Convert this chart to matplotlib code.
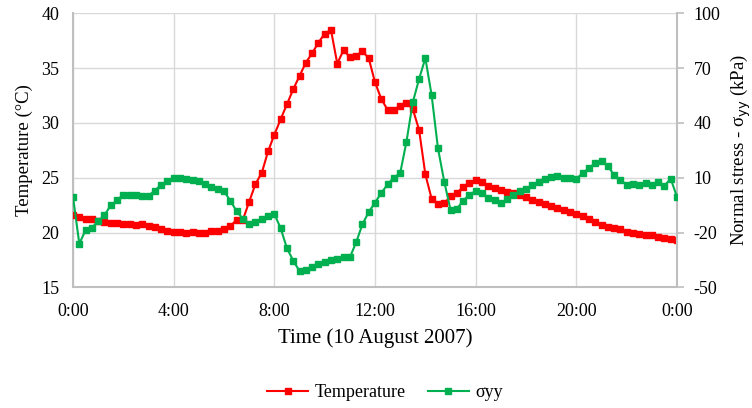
import numpy as np
import matplotlib
matplotlib.use("Agg")
import matplotlib.pyplot as plt

plt.rcParams['font.family'] = ['Liberation Serif', 'DejaVu Serif']
plt.rcParams['axes.unicode_minus'] = False

# readings every 15 min, 0:00 to 24:00
hours = np.arange(97) * 0.25

temperature = [
    21.56, 21.38, 21.19, 21.19, 21.04, 20.95, 20.86, 20.86, 20.76, 20.76, 20.67, 20.76, 20.58, 20.46, 20.34, 20.18,
    20.06, 20.06, 19.94, 20.03, 19.94, 19.94, 20.18, 20.18, 20.31, 20.58, 21.16, 21.16, 22.81, 24.43, 25.44, 27.40,
    28.93, 30.33, 31.70, 33.07, 34.28, 35.50, 36.35, 37.32, 38.14, 38.48, 35.41, 36.65, 35.99, 36.11, 36.56, 35.89,
    33.70, 32.18, 31.19, 31.19, 31.57, 31.80, 31.27, 29.37, 25.30, 23.07, 22.61, 22.67, 23.30, 23.62, 24.13, 24.50,
    24.80, 24.59, 24.28, 24.04, 23.85, 23.67, 23.58, 23.39, 23.24, 22.97, 22.78, 22.57, 22.39, 22.23, 22.05, 21.87,
    21.65, 21.47, 21.19, 20.98, 20.73, 20.52, 20.40, 20.28, 20.09, 19.97, 19.85, 19.76, 19.76, 19.63, 19.54, 19.45,
    19.36,
]

sigma_yy = [
    -0.6, -26.1, -18.7, -17.3, -13.8, -10.5, -5.1, -2.4, 0.7, 0.7, 0.7, 0.2, 0.2, 2.9, 6.2, 8.1,
    10.1, 9.7, 9.2, 8.6, 8.1, 6.4, 4.8, 3.7, 2.6, -2.6, -8.3, -12.5, -15.6, -14.5, -12.5, -11.0,
    -9.8, -17.7, -28.6, -35.4, -41.1, -40.7, -38.7, -37.2, -36.3, -35.0, -34.5, -33.6, -33.6, -25.4, -15.5, -8.8,
    -3.6, 1.6, 6.4, 10.1, 12.5, 29.8, 51.2, 64.0, 75.5, 55.1, 26.2, 7.9, -7.6, -7.2, -2.5, 0.5,
    2.8, 1.8, -0.9, -2.2, -3.7, -1.8, 0.4, 2.7, 3.7, 6.1, 7.9, 9.5, 10.3, 10.8, 10.1, 9.9,
    9.4, 12.5, 15.2, 18.0, 19.1, 16.5, 11.4, 8.8, 6.1, 6.4, 5.9, 7.2, 6.1, 7.7, 5.7, 9.4,
    -0.6,
]

xticks = [0, 4, 8, 12, 16, 20, 24]
xtick_labels = ["0:00", "4:00", "8:00", "12:00", "16:00", "20:00", "0:00"]
left_ticks = [15, 20, 25, 30, 35, 40]
right_ticks = [-50, -20, 10, 40, 70, 100]

red = "#FF0000"
green = "#00B050"
grid_col = "#D9D9D9"
spine_col = "#BFBFBF"
fs = 13

fig = plt.figure(figsize=(7.52, 4.08), dpi=100)
ax1 = fig.add_axes([0.0971, 0.2958, 0.8032, 0.6716])
ax2 = ax1.twinx()

l1, = ax1.plot(hours, temperature, color=red, lw=1.5, marker="s", ms=4.3, label="Temperature", zorder=3)
l2, = ax2.plot(hours, sigma_yy, color=green, lw=1.5, marker="s", ms=4.3, label="σyy", zorder=3)

ax1.set_xlim(0, 24)
ax1.set_ylim(15, 40)
ax2.set_ylim(-50, 100)
ax1.set_xticks(xticks)
ax1.set_xticklabels(xtick_labels)
ax1.set_yticks(left_ticks)
ax2.set_yticks(right_ticks)

ax1.grid(True, color=grid_col, lw=1.0, zorder=0)
ax1.set_axisbelow(True)

for ax in (ax1, ax2):
    for s in ax.spines.values():
        s.set_visible(False)
ax1.spines['left'].set_visible(True)
ax1.spines['bottom'].set_visible(True)
ax2.spines['right'].set_visible(True)
for s in (ax1.spines['left'], ax1.spines['bottom'], ax2.spines['right']):
    s.set_color(spine_col)
    s.set_linewidth(1.5)

ax1.tick_params(axis='y', length=0, labelsize=fs, colors="#000000", pad=10)
ax1.tick_params(axis='x', length=0, labelsize=fs, colors="#000000", pad=11.5)
ax2.tick_params(axis='y', length=5, width=1.2, color=spine_col, labelsize=fs, pad=7)

ax1.set_xlabel("Time (10 August 2007)", fontsize=15, labelpad=6)
ax1.set_ylabel("Temperature (°C)", fontsize=13.5, labelpad=6)
ax2.set_ylabel("Normal stress - σ$_{\\rm yy}$ (kPa)", fontsize=13.5, labelpad=6)

fig.legend(handles=[l1, l2], loc="center", bbox_to_anchor=(0.512, 0.037), ncol=2,
           frameon=False, fontsize=fs, handlelength=2.3, handletextpad=0.35, columnspacing=1.2)

fig.savefig("out.png", dpi=100)
